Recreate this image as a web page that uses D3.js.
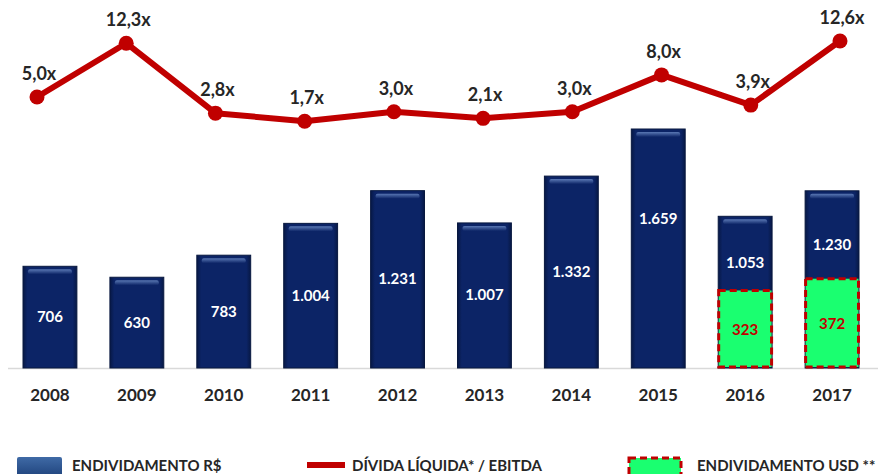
<!DOCTYPE html>
<html>
<head>
<meta charset="utf-8">
<script src="https://cdn.jsdelivr.net/npm/d3@7"></script>
<style>
  body { margin: 0; background: #fff; }
  svg text { font-family: Lato, "Open Sans", sans-serif; font-weight: bold; }
</style>
</head>
<body>
<svg id="chart" width="886" height="474"></svg>
<script>
(function() {
    // chart data
    const years = ["2008", "2009", "2010", "2011", "2012", "2013", "2014", "2015", "2016", "2017"];
    const debtBRL = [706, 630, 783, 1004, 1231, 1007, 1332, 1659, 1053, 1230];
    const debtBRLLabels = ["706", "630", "783", "1.004", "1.231", "1.007", "1.332", "1.659", "1.053", "1.230"];
    const debtUSD = [null, null, null, null, null, null, null, null, 323, 372];
    const netDebtEbitda = [5.0, 12.3, 2.8, 1.7, 3.0, 2.1, 3.0, 8.0, 3.9, 12.6];
    const legendLabels = ["ENDIVIDAMENTO R$", "DÍVIDA LÍQUIDA* / EBITDA", "ENDIVIDAMENTO USD **"];

    const svg = d3.select("#chart");
    const baseline = 368;
    const navy = "#0c2466";
    const red = "#c00000";
    const green = "#1aff70";
    const dark = "#262626";

    const x = d3.scaleBand()
        .domain(years)
        .range([6.5, 875.5])
        .paddingInner(0.38)
        .paddingOuter(0.19);

    const xLine = d3.scalePoint()
        .domain(years)
        .range([37, 840]);

    const y = d3.scaleLinear().domain([0, 1659]).range([baseline, 129]);
    const yUsd = d3.scaleLinear().domain([0, 1000]).range([baseline, baseline - 240]);
    const yRatio = d3.scaleLinear().domain([0, 12.6]).range([133.8, 41]);

    const defs = svg.append("defs");
    const shine = defs.append("linearGradient").attr("id", "shine")
        .attr("x1", 0).attr("x2", 0).attr("y1", 0).attr("y2", 1);
    shine.append("stop").attr("offset", "0%").attr("stop-color", "#5a78b4");
    shine.append("stop").attr("offset", "100%").attr("stop-color", navy);
    const side = defs.append("linearGradient").attr("id", "side");
    side.append("stop").attr("offset", "0%").attr("stop-color", "#071845");
    side.append("stop").attr("offset", "8%").attr("stop-color", navy);
    side.append("stop").attr("offset", "92%").attr("stop-color", navy);
    side.append("stop").attr("offset", "100%").attr("stop-color", "#071845");
    const legendBlue = defs.append("linearGradient").attr("id", "legendBlue")
        .attr("x1", 0).attr("x2", 0).attr("y1", 0).attr("y2", 1);
    legendBlue.append("stop").attr("offset", "0%").attr("stop-color", "#3f6aa6");
    legendBlue.append("stop").attr("offset", "100%").attr("stop-color", "#1c3f78");

    // baseline
    svg.append("line")
        .attr("x1", 8).attr("x2", 878)
        .attr("y1", baseline + 0.5).attr("y2", baseline + 0.5)
        .attr("stroke", "#d9d9d9").attr("stroke-width", 1.5);

    // blue bars
    const bars = svg.append("g").selectAll("g")
        .data(years)
        .join("g");

    bars.append("rect")
        .attr("x", d => x(d))
        .attr("y", (d, i) => y(debtBRL[i]))
        .attr("width", x.bandwidth())
        .attr("height", (d, i) => baseline - y(debtBRL[i]))
        .attr("fill", "url(#side)")
        .attr("stroke", "#08183f")
        .attr("stroke-width", 1);

    bars.append("rect")
        .attr("x", d => x(d) + 5)
        .attr("y", (d, i) => y(debtBRL[i]) + 3)
        .attr("width", x.bandwidth() - 10)
        .attr("height", 5)
        .attr("rx", 2)
        .attr("fill", "url(#shine)");

    // green USD bars
    const usdIdx = years.map((d, i) => i).filter(i => debtUSD[i] != null);
    svg.append("g").selectAll("rect")
        .data(usdIdx)
        .join("rect")
        .attr("x", i => x(years[i]) + 0.5)
        .attr("y", i => yUsd(debtUSD[i]))
        .attr("width", x.bandwidth() - 1)
        .attr("height", i => baseline - yUsd(debtUSD[i]) - 1)
        .attr("fill", green)
        .attr("stroke", red)
        .attr("stroke-width", 3)
        .attr("stroke-dasharray", "7,4");

    // blue bar labels
    svg.append("g").selectAll("text")
        .data(years)
        .join("text")
        .attr("x", d => x(d) + x.bandwidth() / 2)
        .attr("y", (d, i) => {
            const top = y(debtBRL[i]);
            const bottom = debtUSD[i] != null ? yUsd(debtUSD[i]) : baseline;
            let mid = (top + bottom) / 2;
            if (debtUSD[i] != null) mid += 10;
            if (d === "2015") mid -= 30;
            return mid + 5;
        })
        .attr("text-anchor", "middle")
        .attr("fill", "#fff")
        .style("font-size", "15px")
        .text((d, i) => debtBRLLabels[i]);

    // USD labels
    svg.append("g").selectAll("text")
        .data(usdIdx)
        .join("text")
        .attr("x", i => x(years[i]) + x.bandwidth() / 2)
        .attr("y", i => (yUsd(debtUSD[i]) + baseline) / 2 + 6)
        .attr("text-anchor", "middle")
        .attr("fill", red)
        .style("font-size", "15px")
        .text(i => debtUSD[i]);

    // year labels
    svg.append("g").selectAll("text")
        .data(years)
        .join("text")
        .attr("x", d => x(d) + x.bandwidth() / 2)
        .attr("y", 401)
        .attr("text-anchor", "middle")
        .attr("fill", dark)
        .style("font-size", "17px")
        .text(d => d);

    // ratio line
    const line = d3.line()
        .x((d, i) => xLine(years[i]))
        .y(d => yRatio(d));

    svg.append("path")
        .datum(netDebtEbitda)
        .attr("d", line)
        .attr("fill", "none")
        .attr("stroke", red)
        .attr("stroke-width", 6)
        .attr("stroke-linejoin", "round");

    svg.append("g").selectAll("circle")
        .data(netDebtEbitda)
        .join("circle")
        .attr("cx", (d, i) => xLine(years[i]))
        .attr("cy", d => yRatio(d))
        .attr("r", 7.5)
        .attr("fill", red);

    const fmt = d => d.toFixed(1).replace(".", ",") + "x";
    svg.append("g").selectAll("text")
        .data(netDebtEbitda)
        .join("text")
        .attr("x", (d, i) => xLine(years[i]) + 2)
        .attr("y", d => yRatio(d) - 17)
        .attr("text-anchor", "middle")
        .attr("fill", dark)
        .style("font-size", "18px")
        .text(fmt);

    // legend (cut by the bottom edge, as in the original)
    const lg = svg.append("g");
    lg.append("rect")
        .attr("x", 17).attr("y", 457).attr("width", 45).attr("height", 22)
        .attr("rx", 2)
        .attr("fill", "url(#legendBlue)");
    lg.append("text").attr("x", 72).attr("y", 471)
        .attr("fill", dark).style("font-size", "15px").text(legendLabels[0]);

    lg.append("line")
        .attr("x1", 307).attr("x2", 345).attr("y1", 465).attr("y2", 465)
        .attr("stroke", red).attr("stroke-width", 6);
    lg.append("text").attr("x", 352).attr("y", 471)
        .attr("fill", dark).style("font-size", "15px").text(legendLabels[1]);

    lg.append("rect")
        .attr("x", 629).attr("y", 458).attr("width", 52).attr("height", 22)
        .attr("fill", green)
        .attr("stroke", red).attr("stroke-width", 3)
        .attr("stroke-dasharray", "7,4");
    lg.append("text").attr("x", 697).attr("y", 471)
        .attr("fill", dark).style("font-size", "15px").text(legendLabels[2]);
})();
</script>
</body>
</html>
